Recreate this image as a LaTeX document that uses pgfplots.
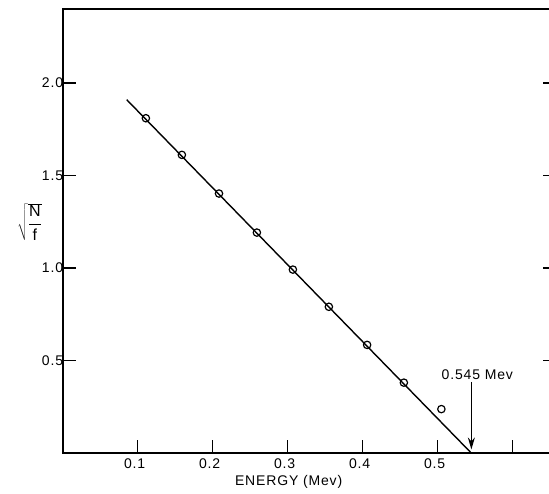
\documentclass[border=0pt]{standalone}
\usepackage{fontspec}
\setmainfont{Liberation Sans}[LetterSpace=6]
\usepackage{pgfplots}
\pgfplotsset{compat=1.18}
\usetikzlibrary{arrows.meta}
\begin{document}
\begin{tikzpicture}
\begin{axis}[
  scale only axis,
  width=493.4pt, height=444pt,
  xmin=0, xmax=0.658,
  ymin=0, ymax=2.4,
  axis line style={line width=1.8pt},
  xtick={0.1,0.2,0.3,0.4,0.5,0.6},
  xticklabels={0.1,0.2,0.3,0.4,0.5,{}},
  ytick={0.5,1.0,1.5,2.0},
  yticklabels={0.5,1.0,1.5,2.0},
  xtick pos=bottom,
  ytick pos=both,
  tick align=inside,
  major tick length=13pt,
  tick style={line width=1.4pt, black},
  /pgf/number format/assume math mode=true,
  tick label style={font=\fontsize{14}{16}\selectfont},
  xticklabel style={yshift=-2pt, xshift=-3pt},
  yticklabel style={xshift=4pt},
  xlabel={ENERGY (Mev)},
  every axis x label/.style={at={(axis description cs:0.458,0)}, anchor=north, yshift=-19pt, font=\fontsize{14}{16}\selectfont},
  ylabel={$\sqrt{\displaystyle\frac{\mbox{N}}{\mbox{f}}}$},
  every axis y label/.style={at={(axis description cs:-0.035,0.52)}, anchor=east, font=\fontsize{16}{18}\selectfont},
  clip=false,
]
\addplot[black, line width=1.4pt, no marks] coordinates {(0.0855,1.91) (0.545,0)};
\addplot[only marks, mark=o, mark size=3.7pt, mark options={fill=white, line width=1.2pt, black}]
  coordinates {
  (0.111,1.810) (0.159,1.612) (0.2085,1.403) (0.259,1.192) (0.307,0.992)
  (0.355,0.791) (0.406,0.585) (0.455,0.381) (0.505,0.238)};
\draw[black, line width=1.3pt, -{Stealth[length=12pt,width=7pt]}] (axis cs:0.545,0.385) -- (axis cs:0.545,0.02);
\node[font=\fontsize{14}{16}\selectfont, anchor=base] at (axis cs:0.553,0.40) {0.545 Mev};
\coordinate (bl) at (axis cs:-0.0835,-0.216);
\coordinate (tr) at (axis cs:0.6485,2.449);
\end{axis}
\pgfresetboundingbox
\useasboundingbox (bl) rectangle (tr);
\end{tikzpicture}
\end{document}
